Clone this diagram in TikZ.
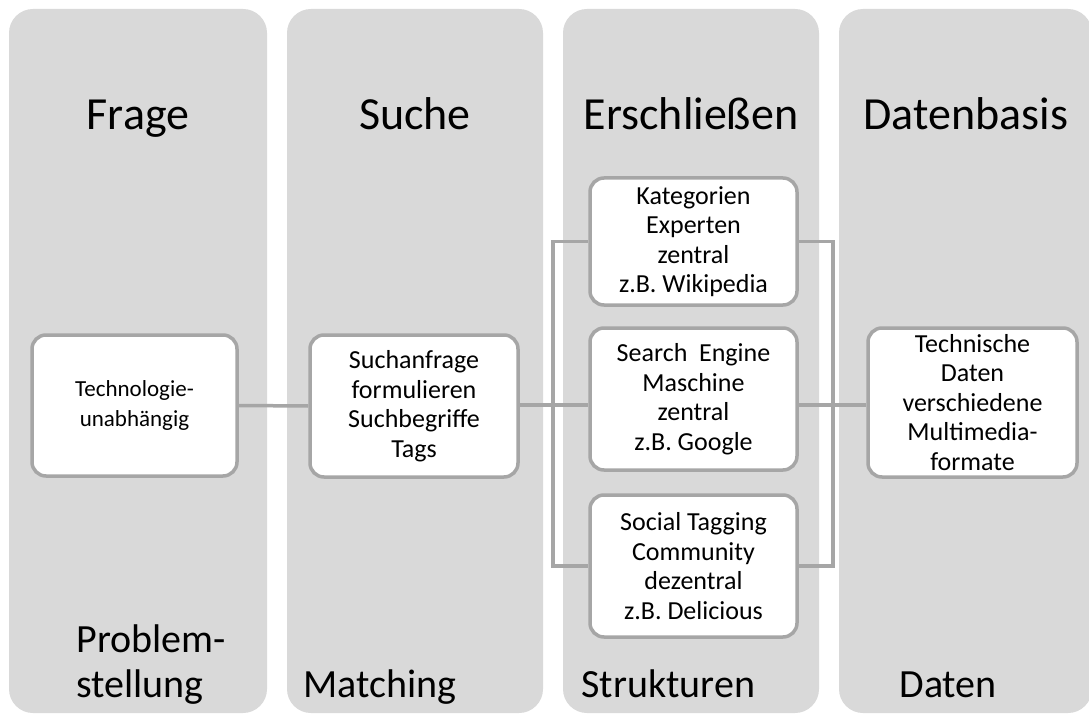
\documentclass[tikz,border=0pt]{standalone}
\usepackage{fontspec}
\setmainfont{Carlito}
\pgfdeclarelayer{columns}
\pgfdeclarelayer{links}
\pgfsetlayers{columns,links,main}
\definecolor{panel}{HTML}{D9D9D9}
\definecolor{edge}{HTML}{A6A6A6}
\tikzset{
  panelbox/.style={fill=panel, draw=none, rounded corners=24pt},
  title/.style={font=\fontsize{46}{50}\selectfont, anchor=base},
  footer/.style={font=\fontsize{40}{45}\selectfont, anchor=base west, align=left},
  card/.style={draw=edge, line width=3.5pt, fill=white, rounded corners=14pt,
    align=center, font=\fontsize{26}{29.5}\selectfont, inner sep=0pt},
  conn/.style={draw=edge, line width=3.5pt},
}
\begin{document}
\begin{tikzpicture}[x=1pt,y=-1pt]
\useasboundingbox (0,0) rectangle (1089,722);
\clip (0,0) rectangle (1089,722);

% four column panels
\begin{pgfonlayer}{columns}
\fill[white] (0,0) rectangle (1089,722);
\path[panelbox] (9,9) rectangle (267,713);
\path[panelbox] (287,9) rectangle (543,713);
\path[panelbox] (563,9) rectangle (819,713);
\path[panelbox] (839,9) rectangle (1092,713);
\end{pgfonlayer}

% column headings
\node[title] (tFrage) at (138,130) {Frage};
\node[title] (tSuche) at (415,130) {Suche};
\node[title] (tErsch) at (691,130) {Erschließen};
\node[title] (tDaten) at (966,130) {Datenbasis};

% column footers
\node[footer] (fProb) at (73,697) {Problem-\\stellung};
\node[footer] (fMatch) at (300,697) {Matching};
\node[footer] (fStruk) at (578,697) {Strukturen};
\node[footer] (fDaten) at (896,697) {Daten};

% content cards
\node[card, font=\fontsize{23}{29.5}\selectfont, minimum width=205pt, minimum height=141pt] (tech) at (134.5,405.5)
  {Technologie-\\unabhängig};
\node[card, minimum width=208pt, minimum height=142pt] (such) at (414,406)
  {Suchanfrage\\formulieren\\Suchbegriffe\\Tags};
\node[card, minimum width=207pt, minimum height=127pt] (kat) at (693.5,241.5)
  {Kategorien\\Experten\\zentral\\z.B. Wikipedia};
\node[card, minimum width=207pt, minimum height=142pt] (search) at (693.5,399)
  {Search~ Engine\\Maschine\\zentral\\z.B. Google};
\node[card, minimum width=207pt, minimum height=142pt] (soc) at (693.5,566)
  {Social Tagging\\Community\\dezentral\\z.B. Delicious};
\node[card, minimum width=209pt, minimum height=149pt] (dat) at (972.5,402.5)
  {Technische\\Daten\\verschiedene\\Multimedia-\\formate};

% bracket joints
\coordinate (lb) at (553,405);
\coordinate (rb) at (833,405);

% connectors
\begin{pgfonlayer}{links}
\draw[conn] (tech.east) -- (such.west);
\draw[conn] (lb -| such.east) -- (lb -| search.west);
\draw[conn] (kat.west) -| (lb) |- (soc.west);
\draw[conn] (kat.east) -| (rb) |- (soc.east);
\draw[conn] (rb -| search.east) -- (rb -| dat.west);
\end{pgfonlayer}
\end{tikzpicture}
\end{document}
